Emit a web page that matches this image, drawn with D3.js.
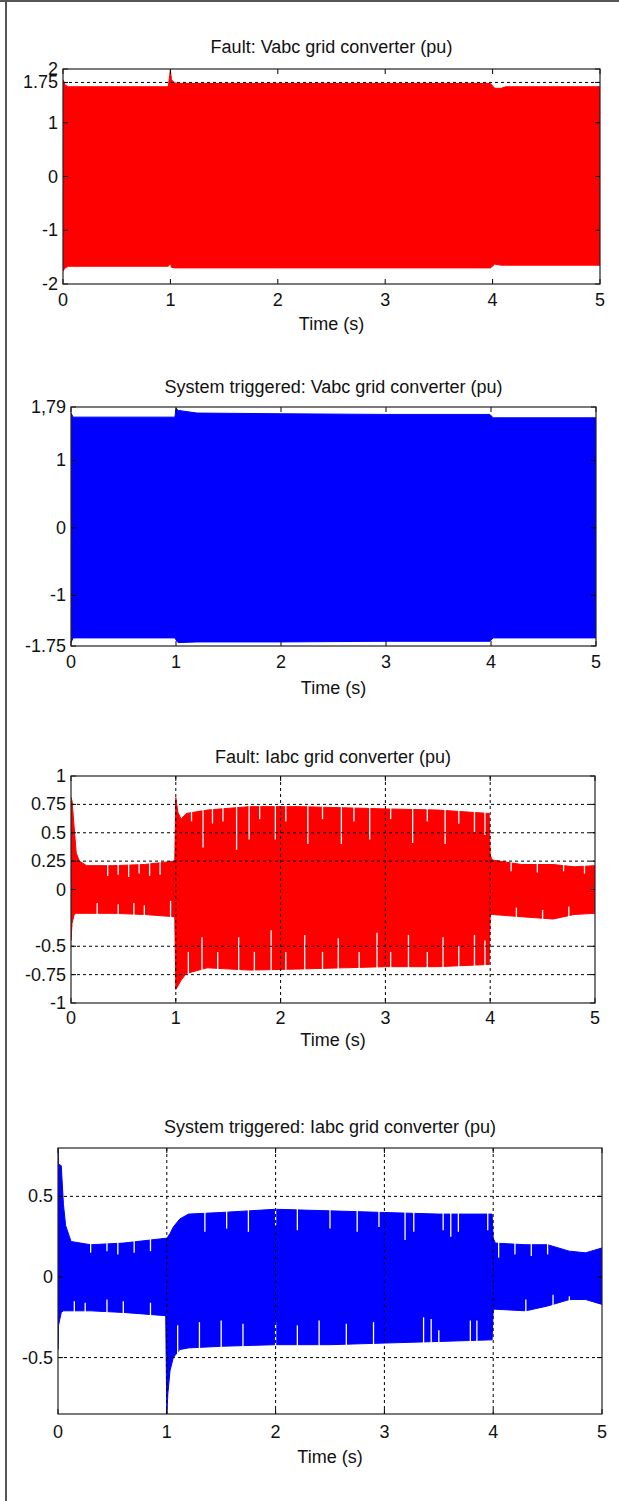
<!DOCTYPE html>
<html lang="en">
<head>
<meta charset="UTF-8">
<title>Vabc / Iabc grid converter</title>
<script src="https://d3js.org/d3.v7.min.js"></script>
<style>
  body { margin: 0; background: #fff; }
  text { font-family: "Liberation Sans", Arial, sans-serif; fill: #111; }
</style>
</head>
<body>
<script>
// x axis, shared by all four plots
const xTicks = [0, 1, 2, 3, 4, 5]

// Plot 1: Fault Vabc (envelope of the three phase voltages)
const vFaultT  = [0, 0.02, 0.05, 0.98, 1.0, 1.01, 1.04, 1.1, 2.0, 3.0, 3.98, 4.02, 4.08, 4.12, 5.0]
const vFaultHi = [1.80, 1.70, 1.67, 1.67, 1.98, 1.80, 1.74, 1.73, 1.73, 1.73, 1.73, 1.64, 1.64, 1.67, 1.67]
const vFaultLo = [-1.76, -1.70, -1.67, -1.67, -1.62, -1.69, -1.70, -1.70, -1.70, -1.70, -1.70, -1.63, -1.65, -1.65, -1.65]
const vFaultYTicks = [2, 1.75, 1, 0, -1, -2]
const vFaultYLabels = ['2', '1.75', '1', '0', '-1', '-2']

// Plot 2: System triggered Vabc
const vTrigT  = [0, 0.02, 0.99, 1.0, 1.02, 1.2, 2.0, 3.0, 3.99, 4.02, 5.0]
const vTrigHi = [1.70, 1.64, 1.64, 1.77, 1.74, 1.70, 1.69, 1.68, 1.68, 1.63, 1.63]
const vTrigLo = [-1.70, -1.63, -1.63, -1.66, -1.70, -1.69, -1.69, -1.68, -1.68, -1.63, -1.63]
const vTrigYTicks = [1.79, 1, 0, -1, -1.75]
const vTrigYLabels = ['1,79', '1', '0', '-1', '-1.75']

// Plot 3: Fault Iabc
const iFaultT  = [0, 0.01, 0.03, 0.05, 0.08, 0.15, 0.4, 0.7, 0.99, 1.0, 1.02, 1.05, 1.1, 1.3, 1.7, 2.2, 2.6, 3.0, 3.5, 3.99, 4.0, 4.02, 4.3, 4.6, 4.8, 5.0]
const iFaultHi = [0.81, 0.78, 0.55, 0.32, 0.25, 0.21, 0.21, 0.22, 0.25, 0.81, 0.68, 0.62, 0.67, 0.70, 0.73, 0.73, 0.72, 0.71, 0.70, 0.67, 0.30, 0.26, 0.22, 0.22, 0.20, 0.21]
const iFaultLo = [-0.45, -0.30, -0.22, -0.21, -0.21, -0.21, -0.21, -0.22, -0.24, -0.88, -0.85, -0.80, -0.74, -0.69, -0.71, -0.70, -0.69, -0.68, -0.68, -0.66, -0.22, -0.22, -0.24, -0.26, -0.22, -0.21]
const iFaultNotchHi = [[0.35, 0.12], [0.45, 0.13], [0.55, 0.11], [0.65, 0.14], [0.75, 0.12], [0.85, 0.13],
  [1.15, 0.60], [1.26, 0.37], [1.35, 0.58], [1.45, 0.60], [1.58, 0.35], [1.70, 0.44], [1.80, 0.62],
  [1.95, 0.44], [2.05, 0.60], [2.26, 0.40], [2.40, 0.62], [2.58, 0.40], [2.70, 0.60], [2.85, 0.44],
  [3.05, 0.62], [3.26, 0.41], [3.40, 0.60], [3.57, 0.40], [3.70, 0.58], [3.85, 0.50], [3.95, 0.48],
  [4.20, 0.16], [4.45, 0.15], [4.70, 0.16], [4.90, 0.14]]
const iFaultNotchLo = [[0.25, -0.12], [0.45, -0.13], [0.60, -0.12], [0.70, -0.14], [0.95, -0.10],
  [1.12, -0.55], [1.25, -0.42], [1.40, -0.55], [1.60, -0.42], [1.75, -0.55], [1.91, -0.36],
  [2.05, -0.55], [2.23, -0.40], [2.40, -0.55], [2.55, -0.43], [2.75, -0.55], [2.92, -0.38],
  [3.05, -0.55], [3.22, -0.40], [3.40, -0.55], [3.55, -0.42], [3.70, -0.50], [3.85, -0.40], [3.95, -0.45],
  [4.25, -0.16], [4.50, -0.18], [4.75, -0.15]]
const iFaultYTicks = [1, 0.75, 0.5, 0.25, 0, -0.5, -0.75, -1]
const iFaultYLabels = ['1', '0.75', '0.5', '0.25', '0', '-0.5', '-0.75', '-1']
const iFaultGridY = [0.75, 0.5, 0.25, -0.5, -0.75]

// Plot 4: System triggered Iabc
const iTrigT  = [0, 0.005, 0.03, 0.05, 0.07, 0.12, 0.3, 0.6, 0.99, 1.0, 1.01, 1.03, 1.06, 1.12, 1.2, 1.5, 2.0, 2.5, 3.0, 3.5, 3.99, 4.0, 4.02, 4.3, 4.5, 4.7, 4.85, 5.0]
const iTrigHi = [0.80, 0.70, 0.69, 0.45, 0.32, 0.22, 0.20, 0.21, 0.24, 0.24, 0.25, 0.27, 0.31, 0.36, 0.39, 0.40, 0.42, 0.41, 0.40, 0.39, 0.39, 0.24, 0.21, 0.20, 0.20, 0.16, 0.15, 0.18]
const iTrigLo = [-0.45, -0.30, -0.22, -0.21, -0.21, -0.21, -0.21, -0.22, -0.24, -0.85, -0.72, -0.58, -0.50, -0.45, -0.44, -0.43, -0.42, -0.42, -0.41, -0.40, -0.39, -0.20, -0.20, -0.21, -0.18, -0.14, -0.14, -0.17]
const iTrigNotchHi = [[0.30, 0.15], [0.45, 0.16], [0.55, 0.14], [0.70, 0.15], [0.85, 0.16],
  [1.35, 0.28], [1.55, 0.30], [1.75, 0.28], [2.00, 0.32], [2.20, 0.29], [2.50, 0.30], [2.75, 0.28],
  [2.95, 0.31], [3.19, 0.23], [3.27, 0.28], [3.54, 0.29], [3.61, 0.25], [3.68, 0.28], [3.95, 0.29],
  [4.05, 0.12], [4.20, 0.14], [4.35, 0.13], [4.50, 0.14]]
const iTrigNotchLo = [[0.15, -0.15], [0.25, -0.16], [0.45, -0.14], [0.60, -0.15], [0.85, -0.16],
  [1.10, -0.30], [1.30, -0.28], [1.50, -0.27], [1.70, -0.29], [2.00, -0.28], [2.20, -0.30],
  [2.40, -0.27], [2.65, -0.29], [2.90, -0.28], [3.36, -0.25], [3.43, -0.26], [3.50, -0.33],
  [3.79, -0.27], [3.85, -0.27], [4.30, -0.14], [4.55, -0.11], [4.70, -0.12]]
const iTrigYTicks = [0.5, 0, -0.5]
const iTrigYLabels = ['0.5', '0', '-0.5']
const iTrigGridY = [0.5, -0.5]

const zip = (t, hi, lo) => t.map((d, i) => [d, hi[i], lo[i]])

const panels = [
  { title: 'Fault: Vabc grid converter (pu)', color: '#ff0000',
    box: [63, 600, 69, 284], titleY: 47, tickY: 300, labelY: 324, domain: [-2, 2],
    env: zip(vFaultT, vFaultHi, vFaultLo), notchHi: [], notchLo: [],
    yTicks: vFaultYTicks, yLabels: vFaultYLabels, gridY: [1.75], gridX: [] },
  { title: 'System triggered: Vabc grid converter (pu)', color: '#0000ff',
    box: [71, 596, 407, 646], titleY: 387, tickY: 662, labelY: 688, domain: [-1.75, 1.79],
    env: zip(vTrigT, vTrigHi, vTrigLo), notchHi: [], notchLo: [],
    yTicks: vTrigYTicks, yLabels: vTrigYLabels, gridY: [], gridX: [] },
  { title: 'Fault: Iabc grid converter (pu)', color: '#ff0000',
    box: [71, 595, 776, 1003], titleY: 757, tickY: 1018, labelY: 1040, domain: [-1, 1],
    env: zip(iFaultT, iFaultHi, iFaultLo), notchHi: iFaultNotchHi, notchLo: iFaultNotchLo,
    yTicks: iFaultYTicks, yLabels: iFaultYLabels, gridY: iFaultGridY, gridX: [1, 2, 3, 4] },
  { title: 'System triggered: Iabc grid converter (pu)', color: '#0000ff',
    box: [58, 602, 1148, 1414], titleY: 1127, tickY: 1432, labelY: 1457, domain: [-0.85, 0.8],
    env: zip(iTrigT, iTrigHi, iTrigLo), notchHi: iTrigNotchHi, notchLo: iTrigNotchLo,
    yTicks: iTrigYTicks, yLabels: iTrigYLabels, gridY: iTrigGridY, gridX: [1, 2, 3, 4] }
]

const svg = d3.select('body').append('svg')
  .attr('width', 619)
  .attr('height', 1501)

// outer frame (left and top edges only are visible)
svg.append('line').attr('x1', 6).attr('x2', 6).attr('y1', 0).attr('y2', 1501)
  .attr('stroke', '#555').attr('stroke-width', 2)
svg.append('line').attr('x1', 0).attr('x2', 619).attr('y1', 1).attr('y2', 1)
  .attr('stroke', '#555').attr('stroke-width', 2)

const fs = 18
const tickLen = 5

panels.forEach((p, k) => {
  const [l, r, t, b] = p.box
  const x = d3.scaleLinear().domain([0, 5]).range([l, r])
  const y = d3.scaleLinear().domain(p.domain).range([b, t])
  const g = svg.append('g')
  const clipId = 'clip' + k

  g.append('clipPath').attr('id', clipId)
    .append('rect').attr('x', l).attr('y', t).attr('width', r - l).attr('height', b - t)

  g.append('rect').attr('x', l).attr('y', t).attr('width', r - l).attr('height', b - t)
    .attr('fill', '#fff')

  const plot = g.append('g').attr('clip-path', `url(#${clipId})`)

  // filled oscillation envelope
  const area = d3.area()
    .x(d => x(d[0]))
    .y0(d => y(d[2]))
    .y1(d => y(d[1]))
  plot.append('path')
    .datum(p.env)
    .attr('d', area)
    .attr('fill', p.color)
    .attr('stroke', p.color)
    .attr('stroke-width', 1)

  // white notches where single cycles fall short of the envelope
  plot.selectAll('.nhi').data(p.notchHi).enter().append('line')
    .attr('x1', d => x(d[0])).attr('x2', d => x(d[0]))
    .attr('y1', d => y(d[1])).attr('y2', y(p.domain[1]))
    .attr('stroke', '#fff').attr('stroke-width', 1.3)
  plot.selectAll('.nlo').data(p.notchLo).enter().append('line')
    .attr('x1', d => x(d[0])).attr('x2', d => x(d[0]))
    .attr('y1', d => y(d[1])).attr('y2', y(p.domain[0]))
    .attr('stroke', '#fff').attr('stroke-width', 1.3)

  // dashed grid
  plot.selectAll('.gy').data(p.gridY).enter().append('line')
    .attr('x1', l).attr('x2', r)
    .attr('y1', d => y(d)).attr('y2', d => y(d))
    .attr('stroke', '#000').attr('stroke-width', 1).attr('stroke-dasharray', '3,3')
  plot.selectAll('.gx').data(p.gridX).enter().append('line')
    .attr('x1', d => x(d)).attr('x2', d => x(d))
    .attr('y1', t).attr('y2', b)
    .attr('stroke', '#000').attr('stroke-width', 1).attr('stroke-dasharray', '3,3')

  // inward ticks on all four sides
  xTicks.forEach(v => {
    g.append('line').attr('x1', x(v)).attr('x2', x(v)).attr('y1', b).attr('y2', b - tickLen)
      .attr('stroke', '#000')
    g.append('line').attr('x1', x(v)).attr('x2', x(v)).attr('y1', t).attr('y2', t + tickLen)
      .attr('stroke', '#000')
  })
  p.yTicks.forEach(v => {
    g.append('line').attr('x1', l).attr('x2', l + tickLen).attr('y1', y(v)).attr('y2', y(v))
      .attr('stroke', '#000')
    g.append('line').attr('x1', r).attr('x2', r - tickLen).attr('y1', y(v)).attr('y2', y(v))
      .attr('stroke', '#000')
  })

  // axes box
  g.append('rect').attr('x', l).attr('y', t).attr('width', r - l).attr('height', b - t)
    .attr('fill', 'none').attr('stroke', '#222').attr('stroke-width', 1.2)

  // tick labels
  g.selectAll('.xl').data(xTicks).enter().append('text')
    .attr('x', d => x(d)).attr('y', p.tickY)
    .attr('text-anchor', 'middle').attr('dominant-baseline', 'central')
    .attr('font-size', fs)
    .text(d => d)
  g.selectAll('.yl').data(p.yTicks).enter().append('text')
    .attr('x', l - 5).attr('y', d => y(d))
    .attr('text-anchor', 'end').attr('dominant-baseline', 'central')
    .attr('font-size', fs)
    .text((d, i) => p.yLabels[i])

  // title and x label
  g.append('text')
    .attr('x', (l + r) / 2).attr('y', p.titleY)
    .attr('text-anchor', 'middle').attr('dominant-baseline', 'central')
    .attr('font-size', fs)
    .text(p.title)
  g.append('text')
    .attr('x', (l + r) / 2).attr('y', p.labelY)
    .attr('text-anchor', 'middle').attr('dominant-baseline', 'central')
    .attr('font-size', fs)
    .text('Time (s)')
})
</script>
</body>
</html>
